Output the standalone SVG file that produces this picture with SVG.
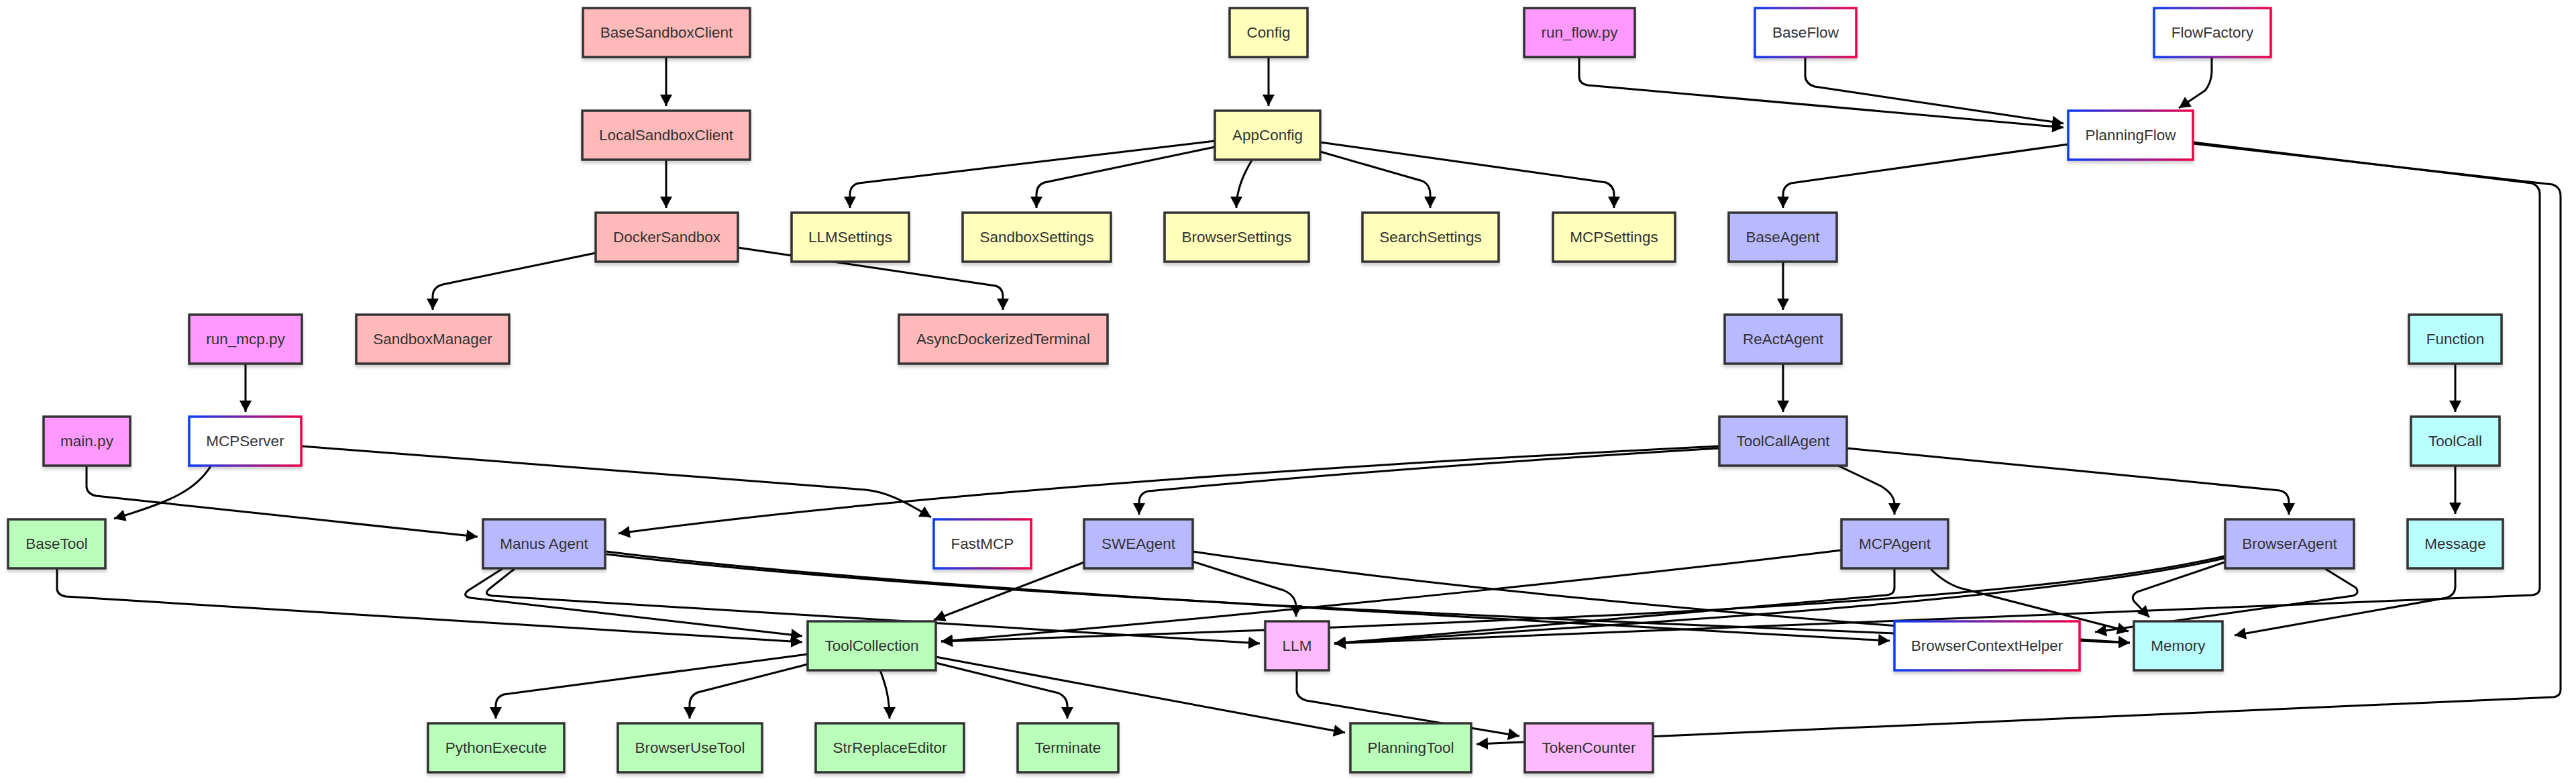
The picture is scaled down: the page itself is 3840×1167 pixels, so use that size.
<svg xmlns="http://www.w3.org/2000/svg" width="3840" height="1167" viewBox="0 0 3840 1167">
<defs>
<style>
.n rect{stroke:#333;stroke-width:3.5;filter:url(#sh)}
.n text{font-family:"Liberation Sans",Arial,sans-serif;font-size:22.5px;fill:#333;text-anchor:middle;dominant-baseline:central}
.sb rect{fill:#ffb9b9}
.cf rect{fill:#ffffbb}
.sc rect{fill:#ff99ff}
.ag rect{fill:#b9b9ff}
.tl rect{fill:#b9ffb9}
.cy rect{fill:#b9ffff}
.lm rect{fill:#ffb9ff}
.gr rect{fill:#fff;stroke:url(#bg)}
#edges path{fill:none;stroke:#000;stroke-width:3;marker-end:url(#ah)}
</style>
<linearGradient id="bg" x1="0" y1="0" x2="1" y2="0">
<stop offset="0" stop-color="#0a3cf5"/>
<stop offset="0.5" stop-color="#7a22a0"/>
<stop offset="1" stop-color="#f00048"/>
</linearGradient>
<filter id="sh" x="-10%" y="-10%" width="120%" height="140%">
<feDropShadow dx="0" dy="4" stdDeviation="2" flood-color="#000" flood-opacity="0.18"/>
</filter>
<marker id="ah" markerUnits="userSpaceOnUse" viewBox="0 0 10 10" refX="10" refY="5" markerWidth="17" markerHeight="18" orient="auto" preserveAspectRatio="none">
<path d="M0,0 L10,5 L0,10 z" fill="#000"/>
</marker>
</defs>
<rect width="3840" height="1167" fill="#fff"/>
<g id="edges">
<path d="M993,85 V158"/>
<path d="M993,238 V310"/>
<path d="M888,377 L660,424 Q645,428 645,442 V462"/>
<path d="M1100,369 L1484,426 Q1495,429 1495,442 V462"/>
<path d="M1891,85 V158"/>
<path d="M1811,210 L1280,273 Q1267,276 1267,290 V310"/>
<path d="M1811,219 L1557,272 Q1545,276 1545,290 V310"/>
<path d="M1866,239 C1852,262 1843,285 1843,310"/>
<path d="M1968,226 L2121,270 Q2132,276 2132,290 V310"/>
<path d="M1968,212 L2394,272 Q2406,277 2406,290 V310"/>
<path d="M2354,85 V114 Q2354,125 2367,127 L3076,190"/>
<path d="M2691,85 V114 Q2692,125 2705,129 L3076,184"/>
<path d="M3297,85 V108 Q3296,124 3287,135 L3248,161"/>
<path d="M3083,215 L2670,273 Q2658,277 2658,290 V310"/>
<path d="M3269,212 L3774,273 Q3786,277 3786,290 V876 Q3786,886 3774,887 L1989,959"/>
<path d="M3269,214 L3805,275 Q3817,279 3817,292 V1028 Q3817,1038 3806,1039 L2201,1109"/>
<path d="M2658,390 V462"/>
<path d="M2658,542 V614"/>
<path d="M3660,542 V614"/>
<path d="M3660,694 V766"/>
<path d="M3660,847 V876 Q3659,887 3647,891 L3331,947"/>
<path d="M366,542 V614"/>
<path d="M314,695 C292,730 255,748 170,773"/>
<path d="M450,665 L1290,730 C1320,733 1345,745 1388,771"/>
<path d="M129,694 V726 Q130,736 143,739 L712,800"/>
<path d="M2563,665 Q1500,718 922,795"/>
<path d="M2563,668 C2200,690 1900,714 1712,732 Q1698,735 1698,749 V767"/>
<path d="M2740,694 L2803,724 Q2824,736 2824,752 V767"/>
<path d="M2753,668 L3398,731 Q3412,734 3412,749 V767"/>
<path d="M85,847 V878 Q86,887 98,889 L1196,957"/>
<path d="M750,847 L698,880 Q688,888 701,891 L1196,948"/>
<path d="M768,847 L729,878 Q720,886 734,888 C1100,910 1500,935 1878,959"/>
<path d="M904,822 C1300,872 2000,910 2817,955"/>
<path d="M904,826 C1400,885 2200,920 3175,958"/>
<path d="M1616,838 L1392,924"/>
<path d="M1778,837 L1914,880 Q1932,888 1932,905 V919"/>
<path d="M1778,822 C2100,870 2600,920 3175,958"/>
<path d="M2745,820 C2500,850 2000,905 1403,956"/>
<path d="M2824,848 V876 Q2824,886 2812,887 L1989,959"/>
<path d="M2878,848 Q2902,872 2928,878 L3173,941"/>
<path d="M3316,829 C3050,890 2500,920 1403,956"/>
<path d="M3316,832 C3050,893 2500,925 1989,959"/>
<path d="M3465,847 L3512,876 Q3518,885 3507,888 L3123,942"/>
<path d="M3316,838 L3186,882 Q3176,888 3181,896 L3204,920"/>
<path d="M1204,975 L751,1035 Q739,1039 739,1052 V1071"/>
<path d="M1204,990 L1040,1032 Q1028,1037 1028,1050 V1071"/>
<path d="M1312,999 C1320,1020 1326,1040 1326,1071"/>
<path d="M1395,988 L1578,1033 Q1591,1039 1591,1052 V1071"/>
<path d="M1395,979 L2005,1092"/>
<path d="M1933,999 V1030 Q1934,1040 1947,1044 L2265,1097"/>
</g>
<g id="nodes">
<g id="BaseSandboxClient" class="n sb"><rect x="869" y="12" width="249" height="73"/><text x="993.5" y="48.5">BaseSandboxClient</text></g>
<g id="Config" class="n cf"><rect x="1833" y="12" width="116" height="73"/><text x="1891" y="48.5">Config</text></g>
<g id="run_flow" class="n sc"><rect x="2272" y="12" width="165" height="73"/><text x="2354.5" y="48.5">run_flow.py</text></g>
<g id="BaseFlow" class="n gr"><rect x="2616" y="12" width="151" height="73"/><text x="2691.5" y="48.5">BaseFlow</text></g>
<g id="FlowFactory" class="n gr"><rect x="3211" y="12" width="174" height="73"/><text x="3298" y="48.5">FlowFactory</text></g>
<g id="LocalSandboxClient" class="n sb"><rect x="868" y="165" width="250" height="73"/><text x="993" y="201.5">LocalSandboxClient</text></g>
<g id="AppConfig" class="n cf"><rect x="1811" y="165" width="157" height="73"/><text x="1889.5" y="201.5">AppConfig</text></g>
<g id="PlanningFlow" class="n gr"><rect x="3083" y="165" width="186" height="73"/><text x="3176" y="201.5">PlanningFlow</text></g>
<g id="DockerSandbox" class="n sb"><rect x="888" y="317" width="212" height="73"/><text x="994" y="353.5">DockerSandbox</text></g>
<g id="LLMSettings" class="n cf"><rect x="1180" y="317" width="175" height="73"/><text x="1267.5" y="353.5">LLMSettings</text></g>
<g id="SandboxSettings" class="n cf"><rect x="1435" y="317" width="221" height="73"/><text x="1545.5" y="353.5">SandboxSettings</text></g>
<g id="BrowserSettings" class="n cf"><rect x="1736" y="317" width="215" height="73"/><text x="1843.5" y="353.5">BrowserSettings</text></g>
<g id="SearchSettings" class="n cf"><rect x="2031" y="317" width="203" height="73"/><text x="2132.5" y="353.5">SearchSettings</text></g>
<g id="MCPSettings" class="n cf"><rect x="2315" y="317" width="182" height="73"/><text x="2406" y="353.5">MCPSettings</text></g>
<g id="BaseAgent" class="n ag"><rect x="2577" y="317" width="161" height="73"/><text x="2657.5" y="353.5">BaseAgent</text></g>
<g id="run_mcp" class="n sc"><rect x="282" y="469" width="168" height="73"/><text x="366" y="505.5">run_mcp.py</text></g>
<g id="SandboxManager" class="n sb"><rect x="531" y="469" width="228" height="73"/><text x="645" y="505.5">SandboxManager</text></g>
<g id="AsyncDockerizedTerminal" class="n sb"><rect x="1340" y="469" width="311" height="73"/><text x="1495.5" y="505.5">AsyncDockerizedTerminal</text></g>
<g id="ReActAgent" class="n ag"><rect x="2571" y="469" width="174" height="73"/><text x="2658" y="505.5">ReActAgent</text></g>
<g id="Function" class="n cy"><rect x="3591" y="469" width="138" height="73"/><text x="3660" y="505.5">Function</text></g>
<g id="main" class="n sc"><rect x="65" y="621" width="129" height="73"/><text x="129.5" y="657.5">main.py</text></g>
<g id="MCPServer" class="n gr"><rect x="282" y="621" width="167" height="73"/><text x="365.5" y="657.5">MCPServer</text></g>
<g id="ToolCallAgent" class="n ag"><rect x="2563" y="621" width="190" height="73"/><text x="2658" y="657.5">ToolCallAgent</text></g>
<g id="ToolCall" class="n cy"><rect x="3594" y="621" width="132" height="73"/><text x="3660" y="657.5">ToolCall</text></g>
<g id="BaseTool" class="n tl"><rect x="12" y="774" width="145" height="73"/><text x="84.5" y="810.5">BaseTool</text></g>
<g id="ManusAgent" class="n ag"><rect x="720" y="774" width="182" height="73"/><text x="811" y="810.5">Manus Agent</text></g>
<g id="FastMCP" class="n gr"><rect x="1392" y="774" width="145" height="73"/><text x="1464.5" y="810.5">FastMCP</text></g>
<g id="SWEAgent" class="n ag"><rect x="1616" y="774" width="162" height="73"/><text x="1697" y="810.5">SWEAgent</text></g>
<g id="MCPAgent" class="n ag"><rect x="2745" y="774" width="159" height="73"/><text x="2824.5" y="810.5">MCPAgent</text></g>
<g id="BrowserAgent" class="n ag"><rect x="3317" y="774" width="192" height="73"/><text x="3413" y="810.5">BrowserAgent</text></g>
<g id="Message" class="n cy"><rect x="3589" y="774" width="142" height="73"/><text x="3660" y="810.5">Message</text></g>
<g id="ToolCollection" class="n tl"><rect x="1204" y="926" width="191" height="73"/><text x="1299.5" y="962.5">ToolCollection</text></g>
<g id="LLM" class="n lm"><rect x="1886" y="926" width="95" height="73"/><text x="1933.5" y="962.5">LLM</text></g>
<g id="BrowserContextHelper" class="n gr"><rect x="2824" y="926" width="276" height="73"/><text x="2962" y="962.5">BrowserContextHelper</text></g>
<g id="Memory" class="n cy"><rect x="3181" y="926" width="132" height="73"/><text x="3247" y="962.5">Memory</text></g>
<g id="PythonExecute" class="n tl"><rect x="638" y="1078" width="203" height="73"/><text x="739.5" y="1114.5">PythonExecute</text></g>
<g id="BrowserUseTool" class="n tl"><rect x="921" y="1078" width="215" height="73"/><text x="1028.5" y="1114.5">BrowserUseTool</text></g>
<g id="StrReplaceEditor" class="n tl"><rect x="1216" y="1078" width="221" height="73"/><text x="1326.5" y="1114.5">StrReplaceEditor</text></g>
<g id="Terminate" class="n tl"><rect x="1517" y="1078" width="150" height="73"/><text x="1592" y="1114.5">Terminate</text></g>
<g id="PlanningTool" class="n tl"><rect x="2013" y="1078" width="180" height="73"/><text x="2103" y="1114.5">PlanningTool</text></g>
<g id="TokenCounter" class="n lm"><rect x="2273" y="1078" width="191" height="73"/><text x="2368.5" y="1114.5">TokenCounter</text></g>
</g>
</svg>
